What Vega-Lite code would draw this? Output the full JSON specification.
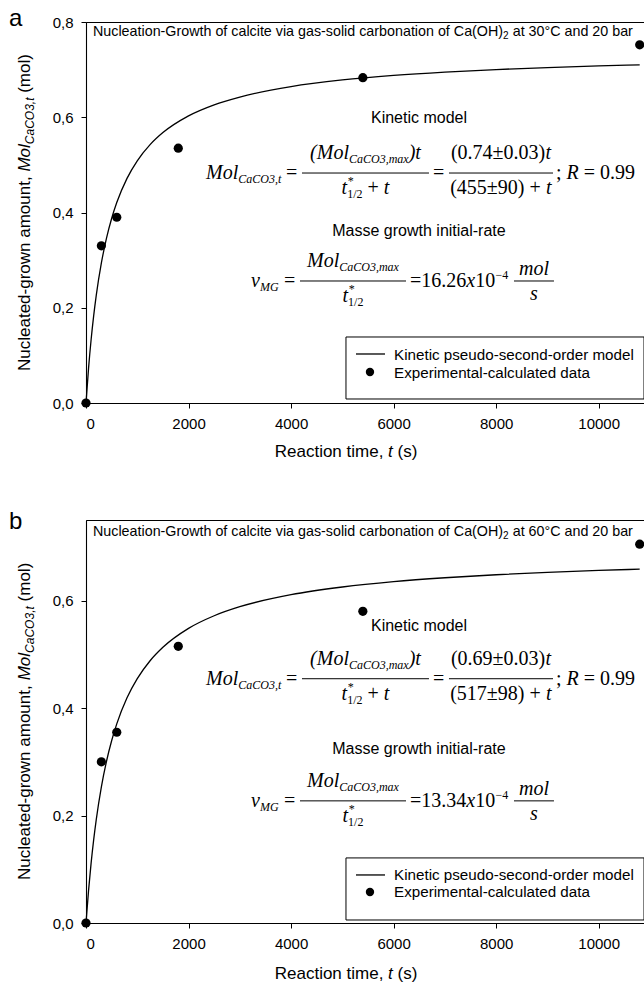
{
"$schema": "https://vega.github.io/schema/vega-lite/v6.json",
"padding": {"left": 8, "top": 6, "right": 0, "bottom": 0},
"background": "white",
"spacing": 48,
"config": {
 "view": {"stroke": "black", "strokeWidth": 1},
 "axis": {"labelFont": "Liberation Sans", "labelFontSize": 15, "labelColor": "black", "domainColor": "black", "tickColor": "black", "tickSize": 5, "labelPadding": 8, "grid": false, "domainWidth": 1.1}
},
"datasets": {
 "curve_a": [{"x":0,"y":0},{"x":50,"y":0.0733},{"x":100,"y":0.1333},{"x":150,"y":0.1835},{"x":200,"y":0.226},{"x":300,"y":0.294},{"x":400,"y":0.3462},{"x":500,"y":0.3874},{"x":600,"y":0.4209},{"x":800,"y":0.4717},{"x":1000,"y":0.5086},{"x":1250,"y":0.5425},{"x":1500,"y":0.5678},{"x":2000,"y":0.6029},{"x":2500,"y":0.6261},{"x":3000,"y":0.6425},{"x":4000,"y":0.6644},{"x":5000,"y":0.6783},{"x":6000,"y":0.6878},{"x":7000,"y":0.6948},{"x":8000,"y":0.7002},{"x":9000,"y":0.7044},{"x":10000,"y":0.7078},{"x":10800,"y":0.7101}],
 "curve_b": [{"x":0,"y":0},{"x":50,"y":0.0608},{"x":100,"y":0.1118},{"x":150,"y":0.1552},{"x":200,"y":0.1925},{"x":300,"y":0.2534},{"x":400,"y":0.301},{"x":500,"y":0.3392},{"x":600,"y":0.3706},{"x":800,"y":0.4191},{"x":1000,"y":0.4548},{"x":1250,"y":0.4881},{"x":1500,"y":0.5131},{"x":2000,"y":0.5483},{"x":2500,"y":0.5718},{"x":3000,"y":0.5886},{"x":4000,"y":0.611},{"x":5000,"y":0.6253},{"x":6000,"y":0.6353},{"x":7000,"y":0.6425},{"x":8000,"y":0.6481},{"x":9000,"y":0.6525},{"x":10000,"y":0.6561},{"x":10800,"y":0.6585}],
 "pts_a": [{"x":0,"y":0},{"x":300,"y":0.33},{"x":600,"y":0.39},{"x":1800,"y":0.535},{"x":5400,"y":0.683},{"x":10800,"y":0.752}],
 "pts_b": [{"x":0,"y":0},{"x":300,"y":0.30},{"x":600,"y":0.355},{"x":1800,"y":0.515},{"x":5400,"y":0.58},{"x":10800,"y":0.705}],
 "bars_a": [{"x":4213,"x2":6690,"y":0.4829},{"x":7080,"x2":9109,"y":0.4829},{"x":4174,"x2":6242,"y":0.2562},{"x":8348,"x2":9128,"y":0.2562}],
 "bars_b": [{"x":4213,"x2":6690,"y":0.4546},{"x":7080,"x2":9109,"y":0.4546},{"x":4174,"x2":6242,"y":0.2273},{"x":8348,"x2":9128,"y":0.2273}],
 "leg_a": [
  {"role":"box","x":5071,"x2":10884,"y":0.1386,"y2":0.0084},
  {"role":"line","x":5266,"x2":5832,"y":0.1029},
  {"role":"dot","x":5539,"y":0.0651},
  {"role":"label","x":6008,"y":0.0913,"text":"Kinetic pseudo-second-order model"},
  {"role":"label","x":6008,"y":0.0535,"text":"Experimental-calculated data"}
 ],
 "leg_b": [
  {"role":"box","x":5071,"x2":10884,"y":0.1211,"y2":0.0056},
  {"role":"line","x":5266,"x2":5832,"y":0.0894},
  {"role":"dot","x":5539,"y":0.0578},
  {"role":"label","x":6008,"y":0.0792,"text":"Kinetic pseudo-second-order model"},
  {"role":"label","x":6008,"y":0.0475,"text":"Experimental-calculated data"}
 ],
 "ann_a": [
  {"role":"panel","x":-1502,"y":0.7916,"text":"a"},
  {"role":"title","x":137,"y":0.7706,"text":"Nucleation-Growth of calcite via gas-solid carbonation of Ca(OH)"},
  {"role":"titlesub","x":8136,"y":0.7643,"text":"2"},
  {"role":"title","x":8323,"y":0.7706,"text":"at 30°C and 20 bar"},
  {"role":"sans","x":6495,"y":0.5879,"text":"Kinetic model"},
  {"role":"sans","x":6495,"y":0.3507,"text":"Masse growth initial-rate"},
  {"role":"serit","x":2341,"y":0.4703,"text":"Mol"},
  {"role":"sub","x":2969,"y":0.4619,"text":"CaCO3,t"},
  {"role":"ser","x":3901,"y":0.4703,"text":"="},
  {"role":"serit","x":4371,"y":0.5123,"text":"(Mol"},
  {"role":"sub","x":5130,"y":0.5039,"text":"CaCO3,max"},
  {"role":"serit","x":6294,"y":0.5123,"text":")t"},
  {"role":"serit","x":4985,"y":0.4388,"text":"t"},
  {"role":"subr","x":5095,"y":0.4304,"text":"1/2"},
  {"role":"subr","x":5106,"y":0.4577,"text":"*"},
  {"role":"ser","x":5491,"y":0.4388,"text":"+"},
  {"role":"serit","x":5809,"y":0.4388,"text":"t"},
  {"role":"ser","x":6768,"y":0.4703,"text":"="},
  {"role":"ser","x":7117,"y":0.5123,"text":"(0.74±0.03)"},
  {"role":"serit","x":8963,"y":0.5123,"text":"t"},
  {"role":"ser","x":7104,"y":0.4388,"text":"(455±90) +"},
  {"role":"serit","x":8974,"y":0.4388,"text":"t"},
  {"role":"ser","x":9167,"y":0.4703,"text":";"},
  {"role":"serit","x":9374,"y":0.4703,"text":"R"},
  {"role":"ser","x":9710,"y":0.4703,"text":"= 0.99"},
  {"role":"serit","x":3218,"y":0.2436,"text":"v"},
  {"role":"sub","x":3392,"y":0.2352,"text":"MG"},
  {"role":"ser","x":3862,"y":0.2436,"text":"="},
  {"role":"serit","x":4311,"y":0.2856,"text":"Mol"},
  {"role":"sub","x":4939,"y":0.2772,"text":"CaCO3,max"},
  {"role":"serit","x":5003,"y":0.2121,"text":"t"},
  {"role":"subr","x":5112,"y":0.2037,"text":"1/2"},
  {"role":"subr","x":5124,"y":0.231,"text":"*"},
  {"role":"ser","x":6320,"y":0.2436,"text":"=16.26"},
  {"role":"serit","x":7418,"y":0.2436,"text":"x"},
  {"role":"ser","x":7591,"y":0.2436,"text":"10"},
  {"role":"subr","x":7989,"y":0.2604,"text":"−4"},
  {"role":"seritc","x":8738,"y":0.2688,"text":"mol"},
  {"role":"seritc","x":8738,"y":0.2163,"text":"s"},
  {"role":"yt","x":-1092,"y":0.0672,"text":"Nucleated-grown amount,"},
  {"role":"ytit","x":-1092,"y":0.4859,"text":"Mol"},
  {"role":"ytsub","x":-1014,"y":0.5434,"text":"CaCO3,t"},
  {"role":"yt","x":-1092,"y":0.6513,"text":"(mol)"},
  {"role":"xt","x":3681,"y":-0.1134,"text":"Reaction time,"},
  {"role":"xtit","x":5892,"y":-0.1134,"text":"t"},
  {"role":"xt","x":6076,"y":-0.1134,"text":"(s)"}
 ],
 "ann_b": [
  {"role":"panel","x":-1502,"y":0.7332,"text":"b"},
  {"role":"title","x":137,"y":0.7211,"text":"Nucleation-Growth of calcite via gas-solid carbonation of Ca(OH)"},
  {"role":"titlesub","x":8136,"y":0.7155,"text":"2"},
  {"role":"title","x":8323,"y":0.7211,"text":"at 60°C and 20 bar"},
  {"role":"sans","x":6495,"y":0.5441,"text":"Kinetic model"},
  {"role":"sans","x":6495,"y":0.3149,"text":"Masse growth initial-rate"},
  {"role":"serit","x":2341,"y":0.4435,"text":"Mol"},
  {"role":"sub","x":2969,"y":0.436,"text":"CaCO3,t"},
  {"role":"ser","x":3901,"y":0.4435,"text":"="},
  {"role":"serit","x":4371,"y":0.4807,"text":"(Mol"},
  {"role":"sub","x":5130,"y":0.4733,"text":"CaCO3,max"},
  {"role":"serit","x":6294,"y":0.4807,"text":")t"},
  {"role":"serit","x":4985,"y":0.4155,"text":"t"},
  {"role":"subr","x":5095,"y":0.408,"text":"1/2"},
  {"role":"subr","x":5106,"y":0.4323,"text":"*"},
  {"role":"ser","x":5491,"y":0.4155,"text":"+"},
  {"role":"serit","x":5809,"y":0.4155,"text":"t"},
  {"role":"ser","x":6768,"y":0.4435,"text":"="},
  {"role":"ser","x":7117,"y":0.4807,"text":"(0.69±0.03)"},
  {"role":"serit","x":8963,"y":0.4807,"text":"t"},
  {"role":"ser","x":7104,"y":0.4155,"text":"(517±98) +"},
  {"role":"serit","x":8974,"y":0.4155,"text":"t"},
  {"role":"ser","x":9167,"y":0.4435,"text":";"},
  {"role":"serit","x":9374,"y":0.4435,"text":"R"},
  {"role":"ser","x":9710,"y":0.4435,"text":"= 0.99"},
  {"role":"serit","x":3218,"y":0.2162,"text":"v"},
  {"role":"sub","x":3392,"y":0.2087,"text":"MG"},
  {"role":"ser","x":3862,"y":0.2162,"text":"="},
  {"role":"serit","x":4311,"y":0.2534,"text":"Mol"},
  {"role":"sub","x":4939,"y":0.2459,"text":"CaCO3,max"},
  {"role":"serit","x":5003,"y":0.1882,"text":"t"},
  {"role":"subr","x":5112,"y":0.1807,"text":"1/2"},
  {"role":"subr","x":5124,"y":0.205,"text":"*"},
  {"role":"ser","x":6320,"y":0.2162,"text":"=13.34"},
  {"role":"serit","x":7418,"y":0.2162,"text":"x"},
  {"role":"ser","x":7591,"y":0.2162,"text":"10"},
  {"role":"subr","x":7989,"y":0.231,"text":"−4"},
  {"role":"seritc","x":8738,"y":0.2385,"text":"mol"},
  {"role":"seritc","x":8738,"y":0.1919,"text":"s"},
  {"role":"yt","x":-1092,"y":0.0801,"text":"Nucleated-grown amount,"},
  {"role":"ytit","x":-1092,"y":0.4516,"text":"Mol"},
  {"role":"ytsub","x":-1014,"y":0.5027,"text":"CaCO3,t"},
  {"role":"yt","x":-1092,"y":0.5985,"text":"(mol)"},
  {"role":"xt","x":3681,"y":-0.1043,"text":"Reaction time,"},
  {"role":"xtit","x":5892,"y":-0.1043,"text":"t"},
  {"role":"xt","x":6076,"y":-0.1043,"text":"(s)"}
 ]
},
"vconcat": [
 {
  "width": 566, "height": 381,
  "encoding": {
   "x": {"field": "x", "type": "quantitative", "scale": {"domain": [0, 11040]}, "axis": {"values": [0,2000,4000,6000,8000,10000], "format": "d", "title": null}},
   "y": {"field": "y", "type": "quantitative", "scale": {"domain": [0, 0.8]}, "axis": {"values": [0,0.2,0.4,0.6,0.8], "labelExpr": "replace(format(datum.value,'.1f'),'.',',')", "title": null}}
  },
  "layer": [
   {"data": {"name": "curve_a"}, "mark": {"type": "line", "color": "black", "strokeWidth": 1.3, "interpolate": "monotone"}, "encoding": {}},
   {"data": {"name": "bars_a"}, "mark": {"type": "rule", "color": "black", "strokeWidth": 1}, "encoding": {"x2": {"field": "x2"}}},
   {"data": {"name": "pts_a"}, "mark": {"type": "circle", "color": "black", "size": 85, "opacity": 1}},
   {"data": {"name": "leg_a"}, "transform": [{"filter": "datum.role === 'box'"}], "mark": {"type": "rect", "fill": "white", "stroke": "black", "strokeWidth": 1}, "encoding": {"x2": {"field": "x2"}, "y2": {"field": "y2"}}},
   {"data": {"name": "leg_a"}, "transform": [{"filter": "datum.role === 'line'"}], "mark": {"type": "rule", "color": "black", "strokeWidth": 1.3}, "encoding": {"x2": {"field": "x2"}}},
   {"data": {"name": "leg_a"}, "transform": [{"filter": "datum.role === 'dot'"}], "mark": {"type": "circle", "color": "black", "size": 70, "opacity": 1}},
   {"data": {"name": "leg_a"}, "transform": [{"filter": "datum.role === 'label'"}], "mark": {"type": "text", "font": "Liberation Sans", "fontSize": 15.2, "align": "left", "baseline": "alphabetic", "color": "black"}, "encoding": {"text": {"field": "text"}}},
   {"data": {"name": "ann_a"}, "transform": [{"filter": "datum.role === 'panel'"}], "mark": {"type": "text", "font": "Liberation Sans", "fontSize": 24, "align": "left", "baseline": "alphabetic", "color": "black"}, "encoding": {"text": {"field": "text"}}},
   {"data": {"name": "ann_a"}, "transform": [{"filter": "datum.role === 'title'"}], "mark": {"type": "text", "font": "Liberation Sans", "fontSize": 14.3, "align": "left", "baseline": "alphabetic", "color": "black"}, "encoding": {"text": {"field": "text"}}},
   {"data": {"name": "ann_a"}, "transform": [{"filter": "datum.role === 'titlesub'"}], "mark": {"type": "text", "font": "Liberation Sans", "fontSize": 10, "align": "left", "baseline": "alphabetic", "color": "black"}, "encoding": {"text": {"field": "text"}}},
   {"data": {"name": "ann_a"}, "transform": [{"filter": "datum.role === 'sans'"}], "mark": {"type": "text", "font": "Liberation Sans", "fontSize": 16, "align": "center", "baseline": "alphabetic", "color": "black"}, "encoding": {"text": {"field": "text"}}},
   {"data": {"name": "ann_a"}, "transform": [{"filter": "datum.role === 'ser'"}], "mark": {"type": "text", "font": "Liberation Serif", "fontSize": 20, "align": "left", "baseline": "alphabetic", "color": "black"}, "encoding": {"text": {"field": "text"}}},
   {"data": {"name": "ann_a"}, "transform": [{"filter": "datum.role === 'serit'"}], "mark": {"type": "text", "font": "Liberation Serif", "fontStyle": "italic", "fontSize": 20, "align": "left", "baseline": "alphabetic", "color": "black"}, "encoding": {"text": {"field": "text"}}},
   {"data": {"name": "ann_a"}, "transform": [{"filter": "datum.role === 'seritc'"}], "mark": {"type": "text", "font": "Liberation Serif", "fontStyle": "italic", "fontSize": 20, "align": "center", "baseline": "alphabetic", "color": "black"}, "encoding": {"text": {"field": "text"}}},
   {"data": {"name": "ann_a"}, "transform": [{"filter": "datum.role === 'sub'"}], "mark": {"type": "text", "font": "Liberation Serif", "fontStyle": "italic", "fontSize": 12, "align": "left", "baseline": "alphabetic", "color": "black"}, "encoding": {"text": {"field": "text"}}},
   {"data": {"name": "ann_a"}, "transform": [{"filter": "datum.role === 'subr'"}], "mark": {"type": "text", "font": "Liberation Serif", "fontSize": 12, "align": "left", "baseline": "alphabetic", "color": "black"}, "encoding": {"text": {"field": "text"}}},
   {"data": {"name": "ann_a"}, "transform": [{"filter": "datum.role === 'yt'"}], "mark": {"type": "text", "font": "Liberation Sans", "fontSize": 17, "angle": 270, "align": "left", "baseline": "alphabetic", "color": "black"}, "encoding": {"text": {"field": "text"}}},
   {"data": {"name": "ann_a"}, "transform": [{"filter": "datum.role === 'ytit'"}], "mark": {"type": "text", "font": "Liberation Sans", "fontStyle": "italic", "fontSize": 17, "angle": 270, "align": "left", "baseline": "alphabetic", "color": "black"}, "encoding": {"text": {"field": "text"}}},
   {"data": {"name": "ann_a"}, "transform": [{"filter": "datum.role === 'ytsub'"}], "mark": {"type": "text", "font": "Liberation Sans", "fontStyle": "italic", "fontSize": 12, "angle": 270, "align": "left", "baseline": "alphabetic", "color": "black"}, "encoding": {"text": {"field": "text"}}},
   {"data": {"name": "ann_a"}, "transform": [{"filter": "datum.role === 'xt'"}], "mark": {"type": "text", "font": "Liberation Sans", "fontSize": 17, "align": "left", "baseline": "alphabetic", "color": "black"}, "encoding": {"text": {"field": "text"}}},
   {"data": {"name": "ann_a"}, "transform": [{"filter": "datum.role === 'xtit'"}], "mark": {"type": "text", "font": "Liberation Sans", "fontStyle": "italic", "fontSize": 17, "align": "left", "baseline": "alphabetic", "color": "black"}, "encoding": {"text": {"field": "text"}}}
  ]
 },
 {
  "width": 566, "height": 403,
  "encoding": {
   "x": {"field": "x", "type": "quantitative", "scale": {"domain": [0, 11040]}, "axis": {"values": [0,2000,4000,6000,8000,10000], "format": "d", "title": null}},
   "y": {"field": "y", "type": "quantitative", "scale": {"domain": [0, 0.75]}, "axis": {"values": [0,0.2,0.4,0.6], "labelExpr": "replace(format(datum.value,'.1f'),'.',',')", "title": null}}
  },
  "layer": [
   {"data": {"name": "curve_b"}, "mark": {"type": "line", "color": "black", "strokeWidth": 1.3, "interpolate": "monotone"}, "encoding": {}},
   {"data": {"name": "bars_b"}, "mark": {"type": "rule", "color": "black", "strokeWidth": 1}, "encoding": {"x2": {"field": "x2"}}},
   {"data": {"name": "pts_b"}, "mark": {"type": "circle", "color": "black", "size": 85, "opacity": 1}},
   {"data": {"name": "leg_b"}, "transform": [{"filter": "datum.role === 'box'"}], "mark": {"type": "rect", "fill": "white", "stroke": "black", "strokeWidth": 1}, "encoding": {"x2": {"field": "x2"}, "y2": {"field": "y2"}}},
   {"data": {"name": "leg_b"}, "transform": [{"filter": "datum.role === 'line'"}], "mark": {"type": "rule", "color": "black", "strokeWidth": 1.3}, "encoding": {"x2": {"field": "x2"}}},
   {"data": {"name": "leg_b"}, "transform": [{"filter": "datum.role === 'dot'"}], "mark": {"type": "circle", "color": "black", "size": 70, "opacity": 1}},
   {"data": {"name": "leg_b"}, "transform": [{"filter": "datum.role === 'label'"}], "mark": {"type": "text", "font": "Liberation Sans", "fontSize": 15.2, "align": "left", "baseline": "alphabetic", "color": "black"}, "encoding": {"text": {"field": "text"}}},
   {"data": {"name": "ann_b"}, "transform": [{"filter": "datum.role === 'panel'"}], "mark": {"type": "text", "font": "Liberation Sans", "fontSize": 24, "align": "left", "baseline": "alphabetic", "color": "black"}, "encoding": {"text": {"field": "text"}}},
   {"data": {"name": "ann_b"}, "transform": [{"filter": "datum.role === 'title'"}], "mark": {"type": "text", "font": "Liberation Sans", "fontSize": 14.3, "align": "left", "baseline": "alphabetic", "color": "black"}, "encoding": {"text": {"field": "text"}}},
   {"data": {"name": "ann_b"}, "transform": [{"filter": "datum.role === 'titlesub'"}], "mark": {"type": "text", "font": "Liberation Sans", "fontSize": 10, "align": "left", "baseline": "alphabetic", "color": "black"}, "encoding": {"text": {"field": "text"}}},
   {"data": {"name": "ann_b"}, "transform": [{"filter": "datum.role === 'sans'"}], "mark": {"type": "text", "font": "Liberation Sans", "fontSize": 16, "align": "center", "baseline": "alphabetic", "color": "black"}, "encoding": {"text": {"field": "text"}}},
   {"data": {"name": "ann_b"}, "transform": [{"filter": "datum.role === 'ser'"}], "mark": {"type": "text", "font": "Liberation Serif", "fontSize": 20, "align": "left", "baseline": "alphabetic", "color": "black"}, "encoding": {"text": {"field": "text"}}},
   {"data": {"name": "ann_b"}, "transform": [{"filter": "datum.role === 'serit'"}], "mark": {"type": "text", "font": "Liberation Serif", "fontStyle": "italic", "fontSize": 20, "align": "left", "baseline": "alphabetic", "color": "black"}, "encoding": {"text": {"field": "text"}}},
   {"data": {"name": "ann_b"}, "transform": [{"filter": "datum.role === 'seritc'"}], "mark": {"type": "text", "font": "Liberation Serif", "fontStyle": "italic", "fontSize": 20, "align": "center", "baseline": "alphabetic", "color": "black"}, "encoding": {"text": {"field": "text"}}},
   {"data": {"name": "ann_b"}, "transform": [{"filter": "datum.role === 'sub'"}], "mark": {"type": "text", "font": "Liberation Serif", "fontStyle": "italic", "fontSize": 12, "align": "left", "baseline": "alphabetic", "color": "black"}, "encoding": {"text": {"field": "text"}}},
   {"data": {"name": "ann_b"}, "transform": [{"filter": "datum.role === 'subr'"}], "mark": {"type": "text", "font": "Liberation Serif", "fontSize": 12, "align": "left", "baseline": "alphabetic", "color": "black"}, "encoding": {"text": {"field": "text"}}},
   {"data": {"name": "ann_b"}, "transform": [{"filter": "datum.role === 'yt'"}], "mark": {"type": "text", "font": "Liberation Sans", "fontSize": 17, "angle": 270, "align": "left", "baseline": "alphabetic", "color": "black"}, "encoding": {"text": {"field": "text"}}},
   {"data": {"name": "ann_b"}, "transform": [{"filter": "datum.role === 'ytit'"}], "mark": {"type": "text", "font": "Liberation Sans", "fontStyle": "italic", "fontSize": 17, "angle": 270, "align": "left", "baseline": "alphabetic", "color": "black"}, "encoding": {"text": {"field": "text"}}},
   {"data": {"name": "ann_b"}, "transform": [{"filter": "datum.role === 'ytsub'"}], "mark": {"type": "text", "font": "Liberation Sans", "fontStyle": "italic", "fontSize": 12, "angle": 270, "align": "left", "baseline": "alphabetic", "color": "black"}, "encoding": {"text": {"field": "text"}}},
   {"data": {"name": "ann_b"}, "transform": [{"filter": "datum.role === 'xt'"}], "mark": {"type": "text", "font": "Liberation Sans", "fontSize": 17, "align": "left", "baseline": "alphabetic", "color": "black"}, "encoding": {"text": {"field": "text"}}},
   {"data": {"name": "ann_b"}, "transform": [{"filter": "datum.role === 'xtit'"}], "mark": {"type": "text", "font": "Liberation Sans", "fontStyle": "italic", "fontSize": 17, "align": "left", "baseline": "alphabetic", "color": "black"}, "encoding": {"text": {"field": "text"}}}
  ]
 }
]
}
